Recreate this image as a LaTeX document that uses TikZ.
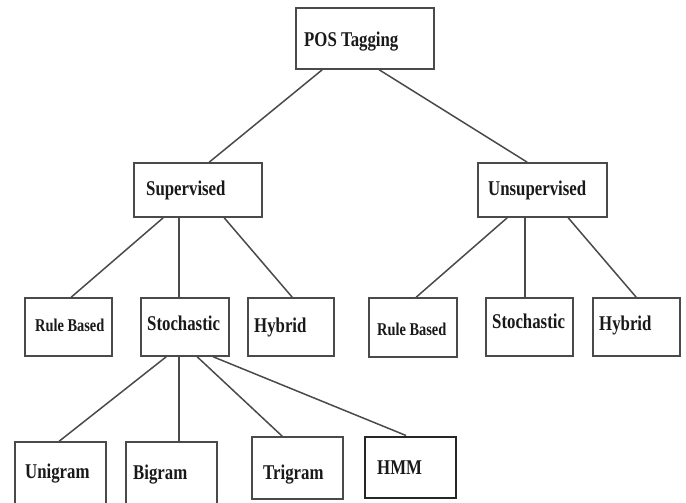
\documentclass[tikz,border=0pt]{standalone}
\usepackage{fontspec}
\setmainfont{Liberation Serif}[FakeStretch=0.8]
\usetikzlibrary{positioning}
\definecolor{edgegray}{HTML}{4A4A4A}
\tikzset{
  box/.style={draw=edgegray, line width=1.6pt, rectangle, inner sep=0pt, fill=none},
  darkbox/.style={box, draw=black!85, line width=2pt},
  lbl/.style={anchor=base west, inner sep=0pt, font=\bfseries\fontsize{21}{25}\selectfont, text=black!90},
  slbl/.style={lbl, font=\bfseries\fontsize{18}{22}\selectfont},
  conn/.style={draw=edgegray, line width=1.5pt}
}
\begin{document}
\begin{tikzpicture}[x=1pt, y=-1pt]
\useasboundingbox[fill=white] (0,0) rectangle (686,503);
% boxes
\node[box, minimum width=138pt, minimum height=61pt] (pos) at (365,38.5) {};
\node[box, minimum width=128pt, minimum height=54pt] (sup) at (198,190) {};
\node[box, minimum width=129pt, minimum height=54pt] (uns) at (542.5,190) {};
\node[box, minimum width=87pt, minimum height=58pt] (ruleL) at (68.5,327) {};
\node[box, minimum width=88pt, minimum height=58pt] (stochL) at (185,327) {};
\node[box, minimum width=86pt, minimum height=58pt] (hybL) at (291,327) {};
\node[box, minimum width=88pt, minimum height=59pt] (ruleR) at (413,327.5) {};
\node[box, minimum width=87pt, minimum height=58pt] (stochR) at (529.5,327) {};
\node[box, minimum width=87pt, minimum height=58pt] (hybR) at (636.5,327) {};
\node[box, minimum width=91pt, minimum height=64pt] (uni) at (60.5,474) {};
\node[box, minimum width=91pt, minimum height=64pt] (bi) at (171.5,474) {};
\node[box, minimum width=91pt, minimum height=62pt] (tri) at (297.5,468) {};
\node[darkbox, minimum width=91pt, minimum height=61pt] (hmm) at (410.5,467) {};
% labels
\node[lbl] (tpos) at (304,47) {POS Tagging};
\node[lbl] (tsup) at (146,195) {Supervised};
\node[lbl] (tuns) at (488,195) {Unsupervised};
\node[slbl] (truleL) at (35,331) {Rule Based};
\node[lbl] (tstochL) at (147,330) {Stochastic};
\node[lbl] (thybL) at (254,332) {Hybrid};
\node[slbl] (truleR) at (377,335) {Rule Based};
\node[lbl] (tstochR) at (492,328) {Stochastic};
\node[lbl] (thybR) at (599,330) {Hybrid};
\node[lbl] (tuni) at (25,478) {Unigram};
\node[lbl] (tbi) at (133,479) {Bigram};
\node[lbl] (ttri) at (263,479) {Trigram};
\node[lbl] (thmm) at (377,474) {HMM};
% connectors
\draw[conn] ([xshift=27pt]pos.south west) -- ([xshift=76pt]sup.north west);
\draw[conn] ([xshift=84pt]pos.south west) -- ([xshift=50pt]uns.north west);
\draw[conn] ([xshift=30pt]sup.south west) -- ([xshift=47pt]ruleL.north west);
\draw[conn] ([xshift=46pt]sup.south west) -- ([xshift=39pt]stochL.north west);
\draw[conn] ([xshift=91pt]sup.south west) -- ([xshift=45pt]hybL.north west);
\draw[conn] ([xshift=30pt]uns.south west) -- ([xshift=48pt]ruleR.north west);
\draw[conn] ([xshift=48pt]uns.south west) -- ([xshift=40pt]stochR.north west);
\draw[conn] ([xshift=91pt]uns.south west) -- ([xshift=44pt]hybR.north west);
\draw[conn] ([xshift=26pt]stochL.south west) -- ([xshift=45pt]uni.north west);
\draw[conn] ([xshift=39pt]stochL.south west) -- ([xshift=54pt]bi.north west);
\draw[conn] ([xshift=57pt]stochL.south west) -- ([xshift=31pt]tri.north west);
\draw[conn] ([xshift=73pt]stochL.south west) -- ([xshift=42pt]hmm.north west);
\end{tikzpicture}
\end{document}
